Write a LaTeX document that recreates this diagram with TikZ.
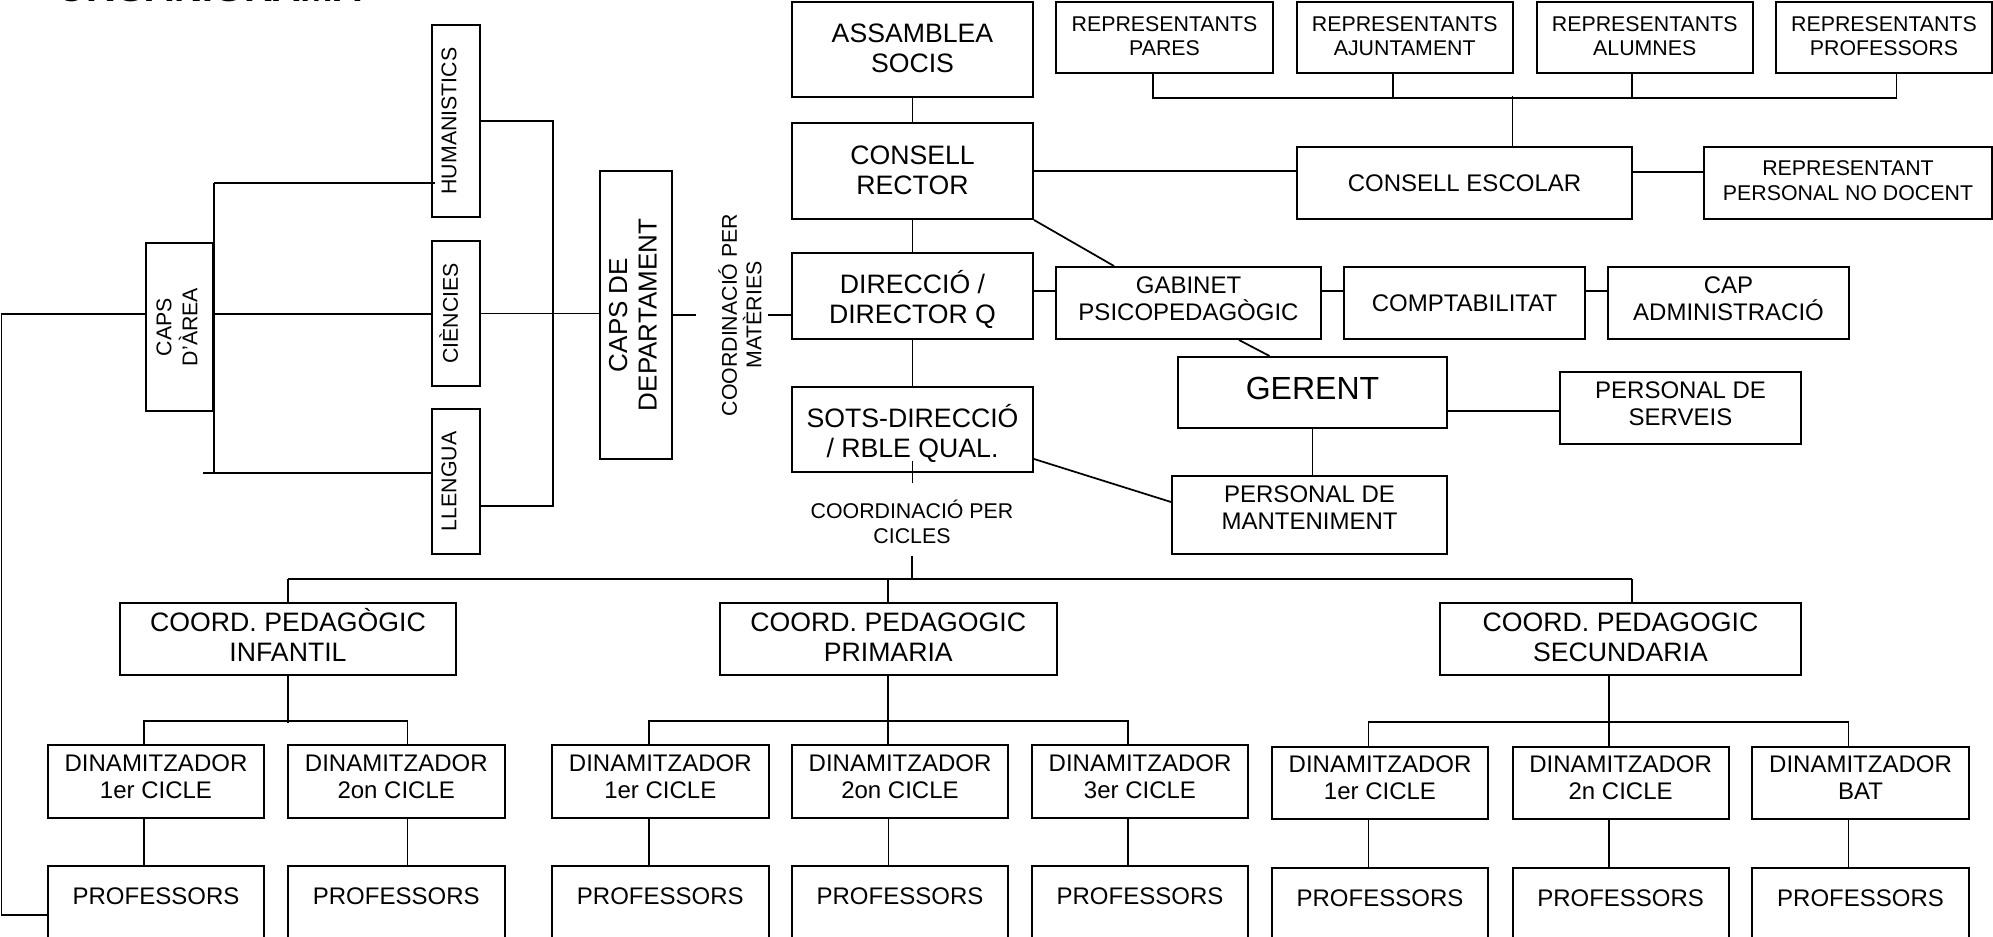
\documentclass[tikz,border=0pt]{standalone}
\usepackage{fontspec}
\setmainfont{Liberation Sans}
\usetikzlibrary{calc}
\newcommand\fsA{\fontsize{16}{18.4}\selectfont}
\newcommand\fsB{\fontsize{18}{20.3}\selectfont}
\newcommand\fsC{\fontsize{20}{22.5}\selectfont}
\newcommand\fsD{\fontsize{24}{27}\selectfont}
\newcommand\fsE{\fontsize{19.5}{22}\selectfont}
\newcommand\fsT{\fontsize{29.5}{32}\selectfont\bfseries}
\newcommand\two[2]{\vtop{\halign{\hfil##\hfil\cr #1\cr #2\cr}}}
\begin{document}
\begin{tikzpicture}[x=0.75pt,y=-0.75pt,
  box/.style 2 args={draw, line width=1.5pt, inner sep=0pt, align=center,
    minimum width=#1*0.75pt, minimum height=#2*0.75pt},
  sA/.style={font=\fsA, text height=11.5pt, text depth=#1},
  sB/.style={font=\fsB, text height=12.9pt, text depth=#1},
  sC/.style={font=\fsC, text height=14.3pt, text depth=#1},
  prof/.style={draw, line width=1.5pt, inner sep=0pt, anchor=north,
    minimum width=#1*0.75pt, text height=29pt, text depth=72pt, font=\fsB},
  lbl/.style={inner sep=0pt, align=center},
  ln/.style={line width=1.3pt},
  mainbus/.style={line width=1.8pt}]
\useasboundingbox (0,0) rectangle (1993,937);
\clip (0,0) rectangle (1993,937);

% title (cut off at the top)
\node[font=\fsT, anchor=base west, inner sep=0pt] (title) at (56,2) {ORGANIGRAMA};

% ---------- top ----------
\node[box={241}{95},sC=24.3pt] (ass) at (912.5,49.5) {\two{ASSAMBLEA}{SOCIS}};
\node[box={217}{71},sA=21.2pt] (rp) at (1164.5,37.5) {\two{REPRESENTANTS}{PARES}};
\node[box={215.5}{71},sA=21.2pt] (raj) at (1404.75,37.5) {\two{REPRESENTANTS}{AJUNTAMENT}};
\node[box={215.5}{71},sA=21.2pt] (ral) at (1644.75,37.5) {\two{REPRESENTANTS}{ALUMNES}};
\node[box={216}{71},sA=21.2pt] (rpr) at (1884,37.5) {\two{REPRESENTANTS}{PROFESSORS}};
\node[box={241}{96},sC=24.5pt] (cr) at (912.5,171) {\two{CONSELL}{RECTOR}};
\node[box={335}{72},font=\fsB] (ce) at (1464.5,183) {CONSELL ESCOLAR};
\node[box={288}{72},sA=22.2pt] (rpnd) at (1848,183) {\two{REPRESENTANT}{PERSONAL NO DOCENT}};
\node[box={241}{86},sC=18.7pt] (dir) at (912.5,296) {\two{DIRECCIÓ /}{DIRECTOR Q}};
\node[box={265}{72},sB=27.8pt] (gab) at (1188.5,303) {\two{GABINET}{PSICOPEDAGÒGIC}};
\node[box={241}{72},font=\fsB] (comp) at (1464.5,303) {COMPTABILITAT};
\node[box={241}{72},sB=26.7pt] (capad) at (1728.5,303) {\two{CAP}{ADMINISTRACIÓ}};
\node[box={241}{85},sC=16.7pt] (sots) at (912.5,429.5) {\two{SOTS-DIRECCIÓ}{/ RBLE QUAL.}};
\node[box={269}{71},font=\fsD] (ger) at (1312.5,392.5) {\raisebox{6pt}{GERENT}};
\node[box={241}{72},sB=27.8pt] (serv) at (1680.5,408) {\two{PERSONAL DE}{SERVEIS}};
\node[box={275}{78},sB=32.3pt] (mant) at (1309.5,515) {\two{PERSONAL DE}{MANTENIMENT}};
\node[lbl,font=\fsA] (ccic) at (912,522) {COORDINACIÓ PER\\CICLES};

% ---------- left ----------
\node[box={48}{192},font=\fsA] (hum) at (456,121) {\rotatebox{90}{HUMANISTICS}\kern10.5pt};
\node[box={48}{145},font=\fsA] (cie) at (456,313.5) {\rotatebox{90}{CIÈNCIES}\kern11pt};
\node[box={48}{145},font=\fsA] (lle) at (456,481.5) {\rotatebox{90}{LLENGUA}\kern10.5pt};
\node[box={67}{168},font=\fsA] (carea) at (179.5,327)
  {\rotatebox{90}{\begin{tabular}{@{}c@{}}CAPS\\D’ÀREA\end{tabular}}};
\node[box={72}{288},font=\fsE] (cdep) at (636,315)
  {\rotatebox{90}{\begin{tabular}{@{}c@{}}CAPS DE\\DEPARTAMENT\end{tabular}}};
\node[lbl,font=\fsA] (cmat) at (740,315)
  {\rotatebox{90}{\two{COORDINACIÓ PER}{MATÈRIES}}};

% ---------- bottom ----------
\node[box={336}{72},sC=25.8pt] (ci) at (288,639) {\two{COORD. PEDAGÒGIC}{INFANTIL}};
\node[box={336.5}{72},sC=25.8pt] (cp) at (888.25,639) {\two{COORD. PEDAGOGIC}{PRIMARIA}};
\node[box={361}{72},sC=25.8pt] (cs) at (1620.5,639) {\two{COORD. PEDAGOGIC}{SECUNDARIA}};

\node[box={216}{73},sB=27.8pt] (di1) at (156,781.5) {\two{DINAMITZADOR}{1er CICLE}};
\node[box={216.5}{73},sB=27.8pt] (di2) at (396.25,781.5) {\two{DINAMITZADOR}{2on CICLE}};
\node[box={216.6}{73},sB=27.8pt] (dp1) at (660.3,781.5) {\two{DINAMITZADOR}{1er CICLE}};
\node[box={216}{73},sB=27.8pt] (dp2) at (900,781.5) {\two{DINAMITZADOR}{2on CICLE}};
\node[box={216.7}{73},sB=27.8pt] (dp3) at (1140,781.5) {\two{DINAMITZADOR}{3er CICLE}};
\node[box={216}{72},sB=28.9pt] (ds1) at (1380,783) {\two{DINAMITZADOR}{1er CICLE}};
\node[box={216}{72},sB=28.9pt] (ds2) at (1620.6,783) {\two{DINAMITZADOR}{2n CICLE}};
\node[box={217}{72},sB=28.9pt] (ds3) at (1860.5,783) {\two{DINAMITZADOR}{BAT}};

\node[prof={216}] (pi1) at (156,865) {PROFESSORS};
\node[prof={216.5}] (pi2) at (396.25,865) {PROFESSORS};
\node[prof={216.6}] (pp1) at (660.3,865) {PROFESSORS};
\node[prof={216}] (pp2) at (900,865) {PROFESSORS};
\node[prof={216.7}] (pp3) at (1140,865) {PROFESSORS};
\node[prof={216}] (ps1) at (1380,867) {PROFESSORS};
\node[prof={216}] (ps2) at (1620.6,867) {PROFESSORS};
\node[prof={217}] (ps3) at (1860.5,867) {PROFESSORS};

% ---------- connectors: top ----------
\draw[ln] ($(rp.south)+(-11.5,0)$) -- ++(0,24) -- ($(rpr.south)+(12.5,24)$) -- ($(rpr.south)+(12.5,0)$);
\draw[ln] ($(raj.south)+(-11.75,0)$) -- ++(0,24);
\draw[ln] ($(ral.south)+(-12.75,0)$) -- ++(0,24);
\draw[ln] ($(ce.north)+(48,0)$) -- ++(0,-50);
\draw[ln] (cr.east) -- (cr.east -| ce.west);
\draw[ln] ($(ce.east)+(0,-11)$) -- ($(rpnd.west)+(0,-11)$);
\draw[ln] (ass.south) -- (cr.north);
\draw[ln] (cr.south) -- (dir.north);
\draw[ln] (dir.south) -- (sots.north);
\draw[ln] (cr.south east) -- ($(gab.north west)+(59,0)$);
\draw[ln] ($(dir.east)+(0,-5)$) -- ($(gab.west)+(0,-12)$);
\draw[ln] ($(gab.east)+(0,-12)$) -- ($(comp.west)+(0,-12)$);
\draw[ln] ($(comp.east)+(0,-12)$) -- ($(capad.west)+(0,-12)$);
\draw[ln] ($(gab.south west)+(184,0)$) -- ($(ger.north west)+(92.5,0)$);
\draw[ln] ($(serv.west)+(0,3)$) coordinate (sv) -- (sv -| ger.east);
\draw[ln] (ger.south) -- (ger.south |- mant.north);
\draw[ln] ($(sots.east)+(0,29.5)$) -- ($(mant.west)+(0,-13)$);
\draw[ln] ($(sots.south)+(0,-12)$) -- ($(sots.south)+(0,10)$);

% ---------- connectors: left ----------
\coordinate (lt) at (1.5,314);
\coordinate (lb) at (1.5,915);
\draw[ln] ($(carea.west)+(0,-13)$) -- (lt) -- (lb) -- (lb -| pi1.west);
\draw[ln] ($(carea.east)+(0,-13)$) coordinate (ca1) -- (ca1 -| cie.west);
\draw[ln] ($(carea.north east)+(0,-59)$) coordinate (ca2) -- ($(carea.south east)+(0,61)$);
\draw[ln] (ca2) -- ($(ca2 -| hum.west)+(4,0)$);
\draw[ln] ($(lle.west)+(-228,-8.5)$) -- ($(lle.west)+(0,-8.5)$);
\draw[ln] (hum.east) -- ++(72,0) -- ($(lle.east)+(72,24.5)$) -- ($(lle.east)+(0,24.5)$);
\draw[ln] (cie.east) -- ++(72,0) coordinate (bm);
\draw[ln] (bm) -- (bm -| cdep.west);
\draw[ln] (cdep.east) -- ++(23,0);
\draw[ln] ($(dir.west)+(0,19)$) -- ++(-23,0);

% ---------- connectors: bottom ----------
\coordinate (mb) at (912,579);
\coordinate (csd) at ($(cs.north)+(11.5,0)$);
\draw[ln] (ccic.center) ++(0,34) -- (mb);
\draw[mainbus] (ci.north |- mb) -- (csd |- mb);
\draw[ln] (ci.north) -- (ci.north |- mb);
\draw[ln] (cp.north) -- (cp.north |- mb);
\draw[ln] (csd) -- (csd |- mb);

\draw[ln] (ci.south) -- ++(0,47);
\draw[ln] ($(di1.north)+(-12.25,0)$) -- ++(0,-23) -| ($(di2.north)+(11.35,0)$);
\draw[ln] ($(dp1.north)+(-11.5,0)$) -- ++(0,-23) -| ($(dp3.north)+(-12,0)$);
\draw[ln] (cp.south) -- ($(dp2.north)+(-11.75,0)$);
\draw[ln] ($(ds1.north)+(-11.5,0)$) -- ++(0,-24) -| ($(ds3.north)+(-11.9,0)$);
\draw[ln] ($(cs.south)+(-11.7,0)$) -- ($(ds2.north)+(-11.8,0)$);

\draw[ln] ($(di1.south)+(-12.25,0)$) -- ($(pi1.north)+(-12.25,0)$);
\draw[ln] ($(di2.south)+(11.35,0)$) -- ($(pi2.north)+(11.35,0)$);
\draw[ln] ($(dp1.south)+(-11.5,0)$) -- ($(pp1.north)+(-11.5,0)$);
\draw[ln] ($(dp2.south)+(-11.5,0)$) -- ($(pp2.north)+(-11.5,0)$);
\draw[ln] ($(dp3.south)+(-12,0)$) -- ($(pp3.north)+(-12,0)$);
\draw[ln] ($(ds1.south)+(-11.5,0)$) -- ($(ps1.north)+(-11.5,0)$);
\draw[ln] ($(ds2.south)+(-11.8,0)$) -- ($(ps2.north)+(-11.8,0)$);
\draw[ln] ($(ds3.south)+(-11.9,0)$) -- ($(ps3.north)+(-11.9,0)$);
\end{tikzpicture}
\end{document}
